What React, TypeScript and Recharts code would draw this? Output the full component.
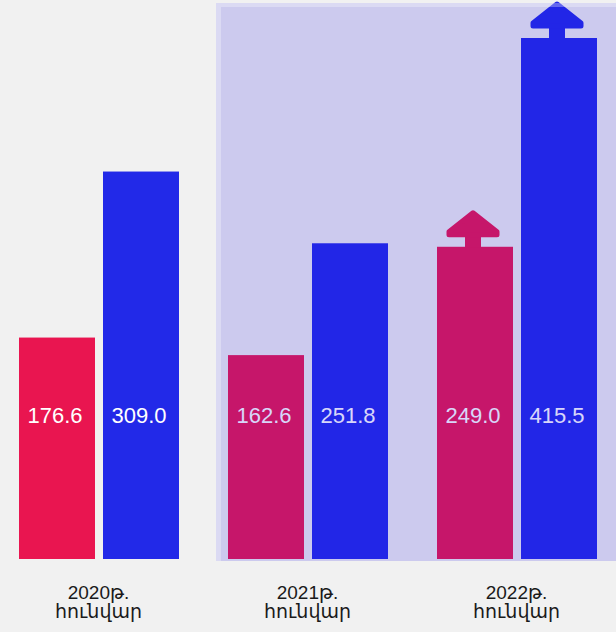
import React from 'react';
import { BarChart, Bar, XAxis, YAxis, LabelList } from 'recharts';

const years = ['2020թ.', '2021թ.', '2022թ.'];
const month = 'հունվար';
const seriesRed = [176.6, 162.6, 249.0];
const seriesBlue = [309.0, 251.8, 415.5];
const rising = [false, false, true];

const data = years.map((y, i) => ({
  name: y,
  red: seriesRed[i],
  blue: seriesBlue[i],
  up: rising[i],
}));

const font = '"Liberation Sans", Arial, "DejaVu Sans", sans-serif';

// bar with an optional "up" arrow on top
const ArrowBar = (props: any) => {
  const { x, y, width, height, fill, payload } = props;
  const cx = x + width / 2 - 2;
  return (
    <g>
      <rect x={x} y={y} width={width} height={height} fill={fill} />
      {payload && payload.up && (
        <g fill={fill} stroke={fill}>
          <rect x={cx - 8} y={y - 12} width={16} height={13} strokeWidth={0} />
          <path
            d={`M${cx} ${y - 34} L${cx + 24} ${y - 15} L${cx + 24} ${y - 12} L${cx - 24} ${y - 12} L${cx - 24} ${y - 15} Z`}
            strokeWidth={5}
            strokeLinejoin="round"
          />
        </g>
      )}
    </g>
  );
};

const ValueLabel = (props: any) => {
  const { x, y, width, height, value } = props;
  return (
    <text
      x={x + width / 2 - 2}
      y={y + height - 136}
      textAnchor="middle"
      fill="#ffffff"
      fontSize={22}
      fontFamily={font}
    >
      {Number(value).toFixed(1)}
    </text>
  );
};

const YearTick = (props: any) => {
  const { x, y, payload } = props;
  return (
    <text x={x} textAnchor="middle" fill="#1a1a1a" fontSize={19} fontFamily={font}>
      <tspan x={x} y={y + 32}>{payload.value}</tspan>
      <tspan x={x} y={y + 51}>{month}</tspan>
    </text>
  );
};

export default function App() {
  return (
    <div
      style={{
        position: 'fixed',
        left: 0,
        top: 0,
        width: 616,
        height: 632,
        overflow: 'hidden',
        background: '#f1f1f1',
      }}
    >
      <div style={{ position: 'absolute', left: -6, top: 0 }}>
        <BarChart
          width={627}
          height={632}
          data={data}
          margin={{ top: 38, right: 0, bottom: 0, left: 0 }}
          barSize={76}
          barGap={8}
        >
          <XAxis
            dataKey="name"
            height={73}
            axisLine={false}
            tickLine={false}
            interval={0}
            tick={<YearTick />}
          />
          <YAxis hide domain={[0, 'dataMax']} />
          <Bar dataKey="red" fill="#e91550" shape={<ArrowBar />} isAnimationActive={false}>
            <LabelList dataKey="red" content={<ValueLabel />} />
          </Bar>
          <Bar dataKey="blue" fill="#2229e8" shape={<ArrowBar />} isAnimationActive={false}>
            <LabelList dataKey="blue" content={<ValueLabel />} />
          </Bar>
        </BarChart>
      </div>
      {/* highlight over the last two years */}
      <div
        style={{
          position: 'absolute',
          left: 216,
          top: 3,
          width: 400,
          height: 558,
          boxSizing: 'border-box',
          background: 'rgba(40, 30, 230, 0.18)',
          borderLeft: '5px solid rgba(255, 255, 255, 0.3)',
          borderTop: '4px solid rgba(255, 255, 255, 0.3)',
          pointerEvents: 'none',
        }}
      />
    </div>
  );
}
